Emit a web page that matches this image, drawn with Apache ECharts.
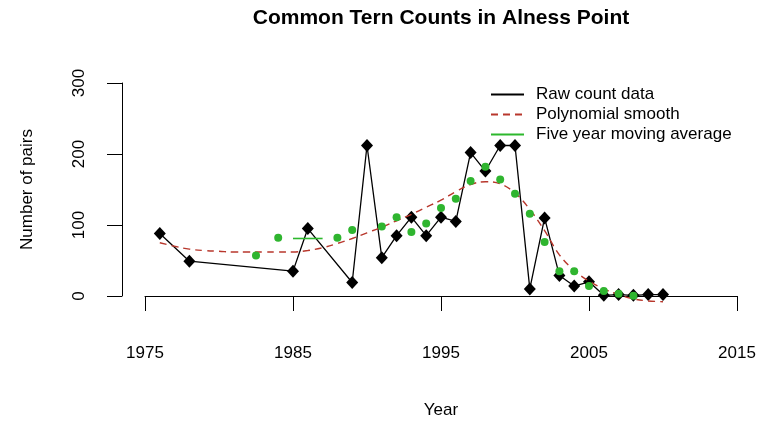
<!DOCTYPE html>
<html>
<head>
<meta charset="utf-8">
<script src="https://cdn.jsdelivr.net/npm/echarts@6/dist/echarts.min.js"></script>
<style>
html,body{margin:0;padding:0;background:#fff;}
#chart{width:762px;height:424px;}
</style>
</head>
<body>
<div id="chart"></div>
<script>
// Raw counts
const rawYears  = [1976, 1978, 1985, 1986, 1989, 1990, 1991, 1992, 1993, 1994, 1995, 1996, 1997, 1998, 1999, 2000, 2001, 2002, 2003, 2004, 2005, 2006, 2007, 2008, 2009, 2010];
const rawCounts = [88, 49, 35, 95, 19, 212, 54, 85, 111, 85, 111, 105, 202, 176, 212, 212, 10, 110, 29, 14, 20, 1, 2, 1, 2, 2];

// Polynomial smooth
const smoothYears  = [1976, 1977, 1978, 1979, 1980, 1981, 1982, 1983, 1984, 1985, 1986, 1987, 1988, 1989, 1990, 1991, 1992, 1993, 1994, 1995, 1996, 1997, 1998, 1999, 2000, 2001, 2002, 2003, 2004, 2005, 2006, 2007, 2008, 2009, 2010];
const smoothValues = [75, 70, 66, 64, 63, 62, 62, 62, 62, 62, 64, 68, 74, 81, 89, 97, 106, 115, 125, 135, 147, 157, 161, 158, 145, 122, 92, 58, 36, 21, 10, 2, -4, -7, -8];

// Five year moving average (points)
const maYears  = [1982.5, 1984, 1988, 1989, 1991, 1992, 1993, 1994, 1995, 1996, 1997, 1998, 1999, 2000, 2001, 2002, 2003, 2004, 2005, 2006, 2007, 2008];
const maValues = [57, 82, 82, 93, 98, 111, 90, 102, 124, 137, 162, 182, 164, 144, 116, 76, 35, 35, 14, 7, 3, 0.5];
// Five year moving average (visible line segment)
const maSegYears  = [1985, 1987];
const maSegValues = [81, 81];

const xTickMin = 1975, xTickMax = 2015, xTickStep = 10;
const yTickMin = 0, yTickMax = 300, yTickStep = 100;

const FONT = '"Liberation Sans", Arial, sans-serif';
const zip = (a, b) => a.map((v, i) => [v, b[i]]);

const chart = echarts.init(document.getElementById('chart'), null, {renderer: 'canvas'});
chart.setOption({
  backgroundColor: '#ffffff',
  animation: false,
  graphic: [{
    type: 'text', x: 441, y: 18,
    style: {text: 'Common Tern Counts in Alness Point', align: 'center', verticalAlign: 'middle',
            font: 'bold 21px ' + FONT, fill: '#000'}
  }],
  legend: {
    orient: 'vertical', left: 485, top: 81,
    itemWidth: 33, itemHeight: 14, itemGap: 3,
    itemStyle: {opacity: 0},
    textStyle: {fontFamily: FONT, fontSize: 17, color: '#000', padding: [0, 0, 0, 7]},
    data: ['Raw count data', 'Polynomial smooth', 'Five year moving average']
  },
  grid: {left: 145, right: 25, top: 83, bottom: 127, containLabel: false},
  xAxis: {
    type: 'value', min: xTickMin, max: xTickMax, interval: xTickStep, offset: 9,
    name: 'Year', nameLocation: 'middle', nameGap: 97,
    nameTextStyle: {fontFamily: FONT, fontSize: 17, color: '#000'},
    axisLine: {show: true, lineStyle: {color: '#000', width: 1}},
    axisTick: {show: true, length: 15, lineStyle: {color: '#000', width: 1}},
    axisLabel: {fontFamily: FONT, fontSize: 17, color: '#000', margin: 40,
                formatter: v => String(v)},
    splitLine: {show: false}
  },
  yAxis: {
    type: 'value', min: yTickMin, max: yTickMax, interval: yTickStep, offset: 23,
    name: 'Number of pairs', nameLocation: 'middle', nameGap: 86,
    nameTextStyle: {fontFamily: FONT, fontSize: 17, color: '#000'},
    axisLine: {show: true, lineStyle: {color: '#000', width: 1}},
    axisTick: {show: true, length: 15, lineStyle: {color: '#000', width: 1}},
    axisLabel: {fontFamily: FONT, fontSize: 17, color: '#000', rotate: 90, margin: 34,
                align: 'center', verticalAlign: 'bottom', formatter: v => String(v)},
    splitLine: {show: false}
  },
  series: [
    {
      name: 'Raw count data', type: 'line', data: zip(rawYears, rawCounts),
      symbol: 'none', clip: false, z: 2,
      lineStyle: {color: '#000', width: 1.3}, itemStyle: {color: '#000'}
    },
    {
      name: 'Raw points', type: 'scatter', data: zip(rawYears, rawCounts),
      symbol: 'diamond', symbolSize: [12, 13], clip: false, z: 3,
      itemStyle: {color: '#000', opacity: 1}
    },
    {
      name: 'Polynomial smooth', type: 'line', data: zip(smoothYears, smoothValues),
      symbol: 'none', smooth: 0.4, clip: false, z: 4,
      lineStyle: {color: '#b8372c', width: 1.4, type: [7, 5]}, itemStyle: {color: '#b8372c'}
    },
    {
      name: 'Five year moving average', type: 'line', data: zip(maSegYears, maSegValues),
      symbol: 'none', clip: false, z: 5,
      lineStyle: {color: '#2db82d', width: 1.6}, itemStyle: {color: '#2db82d'}
    },
    {
      name: 'MA points', type: 'scatter', data: zip(maYears, maValues),
      symbol: 'circle', symbolSize: 8, clip: false, z: 6,
      itemStyle: {color: '#2fb52f', opacity: 1}
    }
  ]
});
</script>
</body>
</html>
